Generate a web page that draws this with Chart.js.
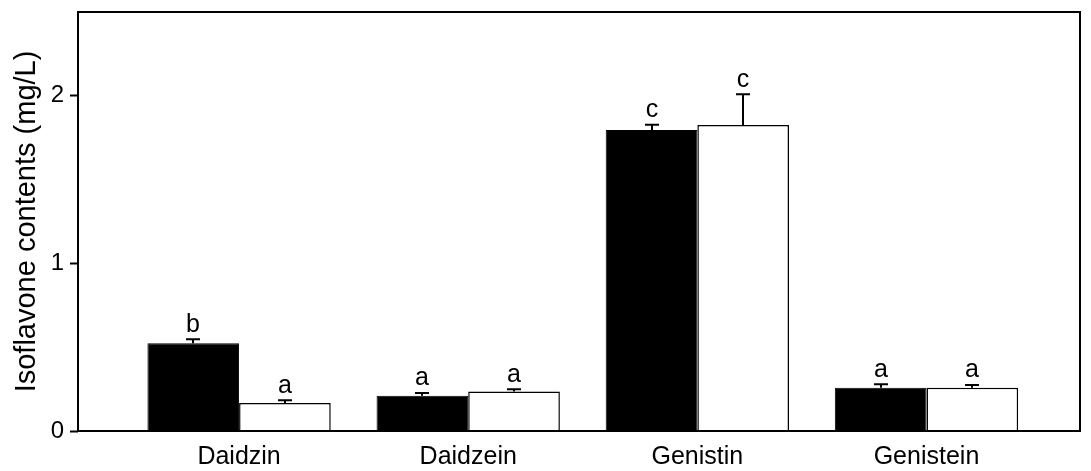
<!DOCTYPE html>
<html>
<head>
<meta charset="utf-8">
<script src="https://cdn.jsdelivr.net/npm/chart.js@4"></script>
<style>
  html, body { margin: 0; padding: 0; background: #fff; }
  #wrap { width: 1091px; height: 471px; }
</style>
</head>
<body>
<div id="wrap"><canvas id="isoflavone-chart"></canvas></div>
<script>
/**
 *  Chart data
 */
var categories = ['Daidzin', 'Daidzein', 'Genistin', 'Genistein'];
var blackValues = [0.523, 0.211, 1.796, 0.258];
var blackErrors = [0.024, 0.016, 0.032, 0.021];
var blackLetters = ['b', 'a', 'c', 'a'];
var whiteValues = [0.167, 0.235, 1.826, 0.258];
var whiteErrors = [0.016, 0.014, 0.183, 0.017];
var whiteLetters = ['a', 'a', 'c', 'a'];
var yTicks = [0, 1, 2];

var FONT = '"Liberation Sans", Arial, sans-serif';

function toPoints(values)
{
    return values.map(function (v, i) { return { x: i, y: v }; });
}

/**
 *  Frame, error bars and significance letters
 */
var extrasPlugin = {
    id: 'extras',
    afterDatasetsDraw: function (chart) {
        var ctx = chart.ctx;
        var yScale = chart.scales.y;
        var errs = [blackErrors, whiteErrors];
        var letters = [blackLetters, whiteLetters];
        ctx.save();
        ctx.strokeStyle = '#000';
        ctx.fillStyle = '#000';
        ctx.lineWidth = 2;
        ctx.font = '25px ' + FONT;
        ctx.textAlign = 'center';
        ctx.textBaseline = 'bottom';
        chart.data.datasets.forEach(function (ds, d) {
            var meta = chart.getDatasetMeta(d);
            meta.data.forEach(function (bar, i) {
                var v = ds.data[i].y;
                var top = yScale.getPixelForValue(v + errs[d][i]);
                var x = Math.round(bar.x);
                ctx.beginPath();
                ctx.moveTo(x, bar.y);
                ctx.lineTo(x, top);
                ctx.moveTo(x - 7, top);
                ctx.lineTo(x + 7, top);
                ctx.stroke();
                ctx.fillText(letters[d][i], x, top - 2);
            });
        });
        var a = chart.chartArea;
        ctx.strokeRect(a.left, a.top, a.right - a.left, a.bottom - a.top);
        ctx.restore();
    }
};

var ctx = document.getElementById('isoflavone-chart').getContext('2d');
var isoChart = new Chart(ctx, {
    type: 'bar',
    data: {
        datasets: [
        {
            data: toPoints(blackValues),
            backgroundColor: '#000',
            borderColor: '#000',
            borderWidth: 1
        },
        {
            data: toPoints(whiteValues),
            backgroundColor: '#fff',
            borderColor: '#000',
            borderWidth: 1.5
        }
        ]
    },
    options: {
        responsive: true,
        maintainAspectRatio: false,
        animation: false,
        layout: { padding: { top: 12, right: 11, left: 0, bottom: 0 } },
        categoryPercentage: 0.8,
        barPercentage: 1.0,
        plugins: {
            legend: { display: false },
            tooltip: { enabled: false }
        },
        scales: {
            x: {
                type: 'linear',
                min: -0.703,
                max: 3.67,
                offset: false,
                grid: { display: false },
                border: { display: false },
                afterFit: function (scale) {
                    scale.height = 40;
                    scale.paddingLeft = 0;
                    scale.paddingRight = 0;
                },
                afterBuildTicks: function (scale) {
                    scale.ticks = categories.map(function (c, i) { return { value: i }; });
                },
                ticks: {
                    autoSkip: false,
                    maxRotation: 0,
                    padding: 3,
                    color: '#000',
                    font: { family: FONT, size: 25 },
                    callback: function (value) { return categories[value]; }
                }
            },
            y: {
                min: 0,
                max: 2.5,
                afterFit: function (scale) {
                    scale.width = 78;
                    scale.paddingTop = 0;
                    scale.paddingBottom = 0;
                },
                afterBuildTicks: function (scale) {
                    scale.ticks = yTicks.map(function (t) { return { value: t }; });
                },
                grid: {
                    drawOnChartArea: false,
                    drawTicks: true,
                    tickLength: 8,
                    tickWidth: 2,
                    tickColor: '#000'
                },
                border: { display: false },
                ticks: {
                    padding: 6,
                    color: '#000',
                    font: { family: FONT, size: 24 }
                },
                title: {
                    display: true,
                    text: 'Isoflavone contents (mg/L)',
                    color: '#000',
                    padding: { top: 10, bottom: 0 },
                    font: { family: FONT, size: 29 }
                }
            }
        }
    },
    plugins: [extrasPlugin]
});
</script>
</body>
</html>
